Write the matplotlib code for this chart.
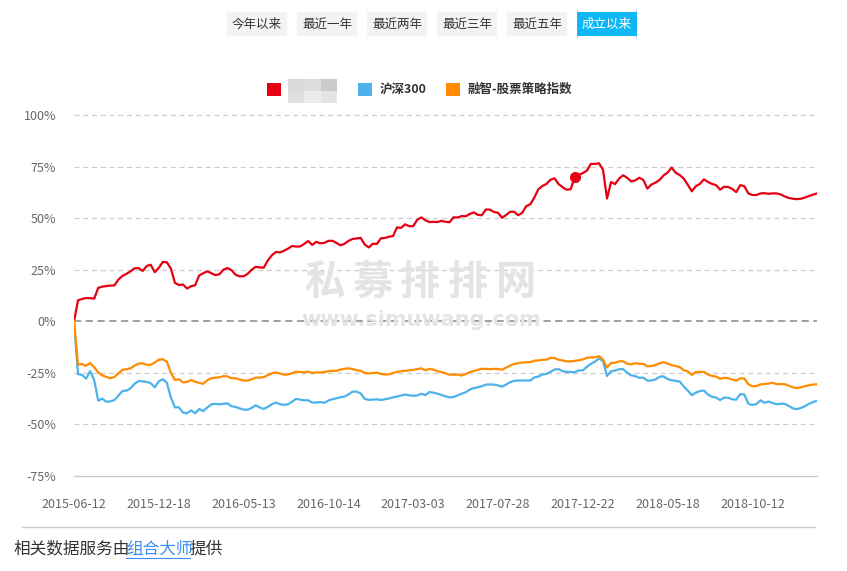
import numpy as np
import matplotlib.pyplot as plt
from matplotlib.patches import FancyBboxPatch, Rectangle
from matplotlib.transforms import Affine2D

plt.rcParams["font.family"] = ["Noto Sans CJK SC", "DejaVu Sans"]

W, H = 847, 571

# weekly cumulative returns (%), one value per week
fund = [
    0, 10.2, 10.8, 11.3, 11.2, 11.0, 16.2, 16.8, 17.1, 17.3,
    17.4, 20.2, 22.0, 23.0, 24.2, 25.7, 25.8, 24.4, 26.8, 27.4,
    23.8, 25.9, 28.8, 28.6, 25.5, 18.6, 17.6, 17.8, 15.9, 17.0,
    17.5, 22.2, 23.3, 24.2, 23.3, 22.4, 22.8, 25.0, 25.8, 24.8,
    22.6, 21.8, 21.8, 23.0, 25.0, 26.4, 26.1, 26.0, 29.5, 32.0,
    33.6, 33.4, 34.2, 35.2, 36.5, 36.2, 36.3, 37.5, 38.9, 37.0,
    38.5, 37.8, 38.0, 39.0, 39.0, 38.0, 36.8, 37.6, 39.0, 39.9,
    40.2, 40.4, 37.2, 35.8, 37.6, 37.5, 40.2, 40.4, 41.0, 41.3,
    45.5, 45.3, 47.0, 46.1, 46.1, 49.2, 50.4, 49.0, 48.1, 48.2,
    48.1, 48.7, 48.2, 48.0, 50.4, 50.3, 51.0, 50.9, 52.0, 52.8,
    51.6, 51.4, 54.2, 54.1, 53.0, 52.6, 50.2, 51.5, 53.1, 53.1,
    51.4, 52.6, 55.8, 56.7, 60.0, 64.0, 65.6, 66.6, 68.6, 69.3,
    66.5, 65.0, 63.8, 64.0, 69.8, 71.0, 71.8, 73.0, 76.3, 76.3,
    76.6, 73.5, 59.5, 67.5, 66.5, 69.2, 70.8, 69.5, 67.8, 68.3,
    69.6, 68.5, 64.3, 66.3, 67.2, 68.5, 70.7, 72.1, 74.5, 72.0,
    70.9, 69.2, 66.2, 63.0, 65.5, 66.6, 68.8, 67.5, 66.6, 66.0,
    63.8, 65.2, 65.1, 64.2, 62.6, 66.0, 65.5, 62.0, 61.2, 61.2,
    62.0, 62.1, 61.8, 62.0, 62.0, 61.5, 60.5, 59.8, 59.4, 59.2,
    59.4, 60.0, 60.7, 61.4, 62.0,
]
hs300 = [
    0, -25.6, -26.0, -27.8, -24.2, -28.5, -38.5, -37.5, -39.0, -38.8,
    -38.2, -36.0, -33.8, -33.6, -32.5, -30.3, -29.0, -29.1, -29.4, -30.0,
    -32.0, -29.1, -28.1, -29.8, -37.0, -41.7, -41.7, -44.3, -44.6, -43.2,
    -44.6, -42.5, -43.5, -41.8, -40.3, -40.0, -40.3, -40.0, -39.8, -41.2,
    -41.5, -42.2, -42.8, -42.9, -42.0, -40.7, -41.8, -42.5, -41.5, -40.2,
    -39.4, -40.2, -40.5, -40.2, -39.0, -37.6, -38.0, -38.3, -38.3, -39.4,
    -39.4, -39.2, -39.5, -38.4, -37.8, -37.3, -36.8, -36.5, -35.4, -34.1,
    -34.1, -35.0, -37.6, -38.1, -38.0, -37.8, -38.2, -37.8, -37.4, -36.9,
    -36.5, -36.0, -35.5, -35.9, -36.1, -36.0, -35.1, -35.8, -34.3, -34.6,
    -35.1, -35.7, -36.4, -36.9, -36.7, -35.9, -35.1, -34.4, -33.1, -32.4,
    -32.0, -31.5, -30.7, -30.6, -30.7, -31.1, -31.7, -30.7, -29.5, -28.9,
    -28.7, -28.7, -28.7, -28.7, -27.2, -26.8, -25.8, -25.5, -24.5, -23.4,
    -23.2, -24.2, -24.5, -24.6, -24.7, -23.8, -23.8, -22.1, -20.6, -19.6,
    -18.0, -19.3, -26.5, -24.2, -23.9, -23.2, -23.2, -25.0, -26.2, -26.6,
    -27.4, -27.3, -28.8, -28.7, -28.2, -26.9, -26.7, -28.0, -28.6, -28.9,
    -29.2, -31.6, -33.6, -35.8, -34.6, -33.8, -33.6, -35.5, -36.6, -37.0,
    -38.2, -37.0, -37.1, -37.8, -38.0, -35.3, -35.5, -40.0, -40.6, -40.1,
    -38.3, -39.5, -38.9, -39.6, -40.2, -40.0, -40.0, -41.0, -42.2, -42.6,
    -42.0, -41.2, -40.0, -39.2, -38.5,
]
strategy = [
    0, -21.0, -20.7, -21.6, -20.2, -22.3, -24.8, -26.2, -27.0, -27.6,
    -27.0, -25.2, -23.6, -23.2, -22.8, -21.5, -20.5, -20.4, -21.1, -21.1,
    -20.0, -18.6, -18.4, -19.6, -25.0, -28.4, -28.1, -29.6, -29.4, -28.5,
    -29.3, -29.9, -30.3, -28.6, -27.6, -27.3, -27.2, -26.6, -26.7, -27.6,
    -27.6, -28.2, -28.7, -28.7, -28.2, -27.3, -27.3, -27.1, -26.1, -25.2,
    -24.8, -25.3, -25.9, -25.8, -25.2, -24.4, -24.6, -24.7, -24.4, -25.1,
    -24.8, -24.8, -24.6, -24.2, -24.0, -24.0, -23.4, -23.0, -22.8, -23.2,
    -23.7, -24.0, -25.0, -25.3, -25.1, -24.9, -25.5, -25.8, -25.7, -25.1,
    -24.5, -24.2, -24.0, -23.8, -23.5, -23.2, -22.8, -23.8, -23.1, -23.4,
    -24.2, -24.6, -25.2, -25.9, -25.9, -25.8, -26.3, -25.6, -24.6, -24.1,
    -23.5, -23.0, -23.1, -23.2, -23.1, -23.1, -23.5, -22.5, -21.5, -20.7,
    -20.3, -20.0, -19.9, -19.8, -19.1, -19.0, -18.7, -18.6, -17.8, -17.8,
    -18.6, -19.0, -19.4, -19.5, -19.2, -18.9, -18.5, -17.7, -17.5, -17.5,
    -16.9, -18.6, -22.4, -20.2, -20.1, -19.4, -19.4, -20.6, -20.9, -20.3,
    -20.6, -20.7, -21.8, -21.7, -21.2, -20.4, -19.8, -20.5, -21.3, -21.7,
    -22.2, -23.7, -24.3, -26.0, -24.6, -24.5, -24.5, -25.8, -26.5, -26.8,
    -27.9, -27.4, -27.6, -28.2, -28.8, -27.7, -27.7, -30.5, -31.5, -31.4,
    -30.6, -30.4, -30.2, -29.8, -30.5, -30.4, -30.5, -31.2, -32.0, -32.4,
    -32.0, -31.5, -31.0, -30.7, -30.5,
]
series_names = ["", "沪深300", "融智-股票策略指数"]
series_colors = ["#e60012", "#4cb2ea", "#ff8c00"]
tick_dates = ["2015-06-12", "2015-12-18", "2016-05-13", "2016-10-14", "2017-03-03",
              "2017-07-28", "2017-12-22", "2018-05-18", "2018-10-12"]
TICK_STEP = 21
y_ticks = [-75, -50, -25, 0, 25, 50, 75, 100]
hover_index = 124
buttons = ["今年以来", "最近一年", "最近两年", "最近三年", "最近五年", "成立以来"]
active_button = 5

fig = plt.figure(figsize=(W / 100, H / 100), dpi=100)
# pixel coordinates measured from the top-left corner
px = Affine2D().scale(1 / W, -1 / H).translate(0, 1) + fig.transFigure

ax = fig.add_axes([74 / W, 1 - 476 / H, (817 - 74) / W, (476 - 115) / H])
ax.patch.set_alpha(0)

# watermark
for k, ch in enumerate("私募排排网"):
    fig.text(324 + 48 * k, 282, ch, transform=px, ha="center", va="center",
             fontsize=29, fontweight="bold", color="#e4e4e4", zorder=0)
fig.text(421, 320, "www.simuwang.com", transform=px, ha="center", va="center",
         fontsize=15, fontweight="bold", color="#e4e4e4", family="DejaVu Sans", zorder=0)

for v in y_ticks:
    if v == 0:
        ax.axhline(v, color="#999999", lw=1.3, ls=(0, (4, 2.5)), zorder=1)
    elif v == -75:
        ax.axhline(v, color="#cccccc", lw=1.0, zorder=1, clip_on=False)
    else:
        ax.axhline(v, color="#cccccc", lw=0.9, ls=(0, (4, 3)), zorder=1, clip_on=False)

x = np.arange(len(fund))
for vals, c in zip([fund, hs300, strategy], series_colors):
    ax.plot(x, vals, color=c, lw=1.6, zorder=3, solid_joinstyle="round")
ax.plot(x[hover_index], fund[hover_index], "o", color=series_colors[0], ms=7, zorder=4)

ax.set_xlim(0, len(fund) - 1)
ax.set_ylim(-75, 100)
ax.set_yticks(y_ticks, labels=[f"{v}%" for v in y_ticks])
ax.set_xticks(x[::TICK_STEP][:len(tick_dates)], labels=tick_dates)
for s in ax.spines.values():
    s.set_visible(False)
ax.tick_params(axis="both", length=0, labelsize=9, labelcolor="#666666")
ax.tick_params(axis="y", pad=13)
ax.tick_params(axis="x", pad=16)

# range buttons
for k, label in enumerate(buttons):
    active = k == active_button
    x0 = 227 + 70 * k
    fig.patches.append(FancyBboxPatch((x0, 36), 60, -24, boxstyle="round,pad=0,rounding_size=2",
                                      transform=px, facecolor="#0fb8f5" if active else "#f3f3f3",
                                      edgecolor="none"))
    fig.text(x0 + 30, 24, label, transform=px, ha="center", va="center", fontsize=9,
             color="white" if active else "#333333")

# legend
legend_x = [267, 358, 446]
for lx, name, c in zip(legend_x, series_names, series_colors):
    fig.patches.append(Rectangle((lx, 96), 14, -13, transform=px, facecolor=c, edgecolor="none"))
    if name:
        fig.text(lx + 22, 89, name, transform=px, ha="left", va="center", fontsize=9,
                 fontweight="bold", color="#333333")
# pixelated (hidden) fund name
mosaic = [["#d9d9d9", "#dcdcdc", "#cacccb"], ["#e0dfde", "#ebebed", "#e4e4e4"]]
for r, row in enumerate(mosaic):
    for cidx, col in enumerate(row):
        fig.patches.append(Rectangle((288 + 16.3 * cidx, 79 + 12 * r), 16.3, 12, transform=px,
                                     facecolor=col, edgecolor="none"))

# footer
fig.lines.append(plt.Line2D([22, 815], [527, 527], transform=px, color="#cccccc", lw=1))
foot_a, link, foot_b = "相关数据服务由", "组合大师", "提供"
cw = 16
fx0 = 14
fig.text(fx0, 549, foot_a, transform=px, ha="left", va="center", fontsize=12, color="#333333")
lx0 = fx0 + cw * len(foot_a)
fig.text(lx0, 549, link, transform=px, ha="left", va="center", fontsize=12, color="#3d8ef2")
fig.lines.append(plt.Line2D([lx0, lx0 + cw * len(link)], [558, 558], transform=px,
                            color="#3d8ef2", lw=0.8))
fig.text(lx0 + cw * len(link), 549, foot_b, transform=px, ha="left", va="center",
         fontsize=12, color="#333333")

fig.savefig("out.png", dpi=100)
